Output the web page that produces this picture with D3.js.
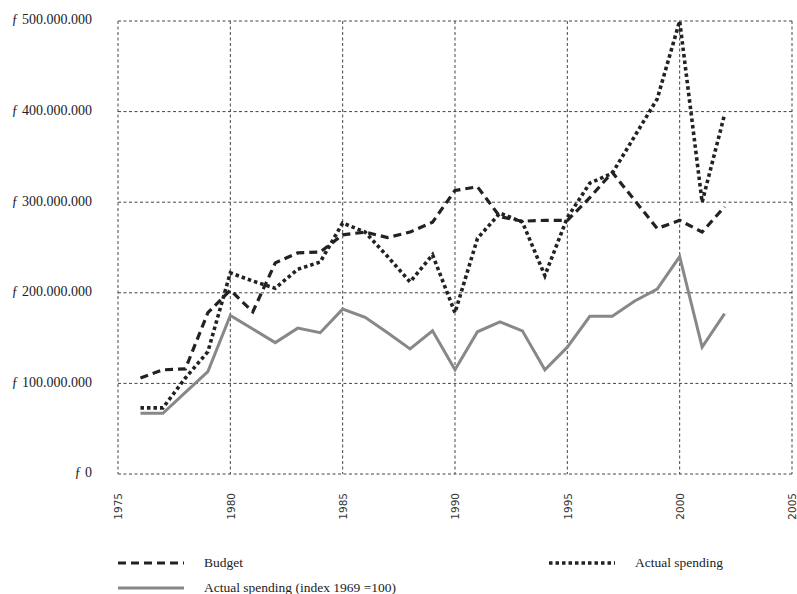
<!DOCTYPE html>
<html lang="en">
<head>
    <meta charset="UTF-8">
    <title>Budget and actual spending</title>
    <script src="https://d3js.org/d3.v7.min.js"></script>
    <style>
        body { margin: 0; background: #fff; }
        .grid line { stroke: #444; stroke-width: 1; stroke-dasharray: 3,2.5; }
        .ylab text { font-family: "Liberation Serif", serif; font-size: 14px; fill: #222; }
        .xlab text { font-family: "DejaVu Sans", sans-serif; font-size: 10.5px; fill: #333; }
        .legend text { font-family: "Liberation Serif", serif; font-size: 13.5px; fill: #222; }
    </style>
</head>
<body>

<svg width="797" height="594"></svg>

<script>
    // years and series (guilders)
    const years = d3.range(1976, 2003);
    const budget = [106, 115, 116, 178, 203, 179, 233, 244, 245, 264, 267, 261, 267, 278,
                    313, 317, 284, 279, 280, 280, 305, 333, 302, 271, 280, 267, 295];
    const actual = [73, 73, 106, 135, 222, 213, 205, 226, 234, 277, 267, 240, 212, 242,
                    178, 260, 288, 278, 219, 283, 321, 332, 373, 414, 500, 300, 397];
    const indexed = [67, 67, 90, 113, 175, 160, 145, 161, 156, 182, 173, 156, 138, 158,
                     115, 157, 168, 158, 115, 140, 174, 174, 191, 204, 240, 140, 177];
    const xTicks = [1975, 1980, 1985, 1990, 1995, 2000, 2005];
    const yTicks = [0, 100, 200, 300, 400, 500];   // millions

    const svg = d3.select("svg");

    const plotL = 118, plotR = 792, plotT = 21, plotB = 474;
    const x = d3.scaleLinear().domain([1975, 2005]).range([plotL, plotR]);
    const y = d3.scaleLinear().domain([0, 500]).range([plotB, plotT]);

    const nl = d3.formatLocale({ decimal: ",", thousands: ".", grouping: [3], currency: ["ƒ ", ""] });
    const fmt = nl.format(",");

    // grid (also acts as frame)
    const grid = svg.append("g").attr("class", "grid");
    grid.selectAll("line.v").data(xTicks).join("line").attr("class", "v")
        .attr("x1", d => x(d)).attr("x2", d => x(d))
        .attr("y1", plotT).attr("y2", plotB);
    grid.selectAll("line.h").data(yTicks).join("line").attr("class", "h")
        .attr("x1", plotL).attr("x2", plotR)
        .attr("y1", d => y(d)).attr("y2", d => y(d));

    // y labels
    const yAxis = svg.append("g").attr("class", "ylab")
        .attr("transform", `translate(${plotL - 26},0)`)
        .call(d3.axisLeft(y).tickValues(yTicks).tickSize(0)
            .tickFormat(d => "ƒ " + fmt(d * 1e6)));
    yAxis.select(".domain").remove();
    yAxis.selectAll("text").attr("x", 0).attr("dy", "0.2em");

    // x labels, rotated
    const xAxis = svg.append("g").attr("class", "xlab")
        .attr("transform", `translate(0,${plotB})`)
        .call(d3.axisBottom(x).tickValues(xTicks).tickSize(0).tickFormat(d3.format("d")));
    xAxis.select(".domain").remove();
    xAxis.selectAll("text")
        .attr("transform", "rotate(-90)")
        .attr("text-anchor", "end")
        .attr("x", -19).attr("y", 0).attr("dy", "0.35em");

    const line = vals => d3.line().x((d, i) => x(years[i])).y(d => y(d))(vals);

    svg.append("path").attr("d", line(indexed))
        .attr("fill", "none").attr("stroke", "#888").attr("stroke-width", 3)
        .attr("stroke-linejoin", "miter");
    svg.append("path").attr("d", line(budget))
        .attr("fill", "none").attr("stroke", "#222").attr("stroke-width", 3.2)
        .attr("stroke-dasharray", "8,5");
    svg.append("path").attr("d", line(actual))
        .attr("fill", "none").attr("stroke", "#222").attr("stroke-width", 3.6)
        .attr("stroke-dasharray", "3.5,3");

    // legend
    const legend = svg.append("g").attr("class", "legend");
    const items = [
        { label: "Budget", x0: 118, y0: 563, stroke: "#222", w: 3.2, dash: "8,5" },
        { label: "Actual spending", x0: 549, y0: 563, stroke: "#222", w: 3.6, dash: "3.5,3" },
        { label: "Actual spending (index 1969 =100)", x0: 118, y0: 588, stroke: "#888", w: 3, dash: null }
    ];
    items.forEach(it => {
        legend.append("line")
            .attr("x1", it.x0).attr("x2", it.x0 + 66)
            .attr("y1", it.y0).attr("y2", it.y0)
            .attr("stroke", it.stroke).attr("stroke-width", it.w)
            .attr("stroke-dasharray", it.dash);
        legend.append("text")
            .attr("x", it.x0 + 86).attr("y", it.y0).attr("dy", "0.32em")
            .text(it.label);
    });
</script>

</body>
</html>
